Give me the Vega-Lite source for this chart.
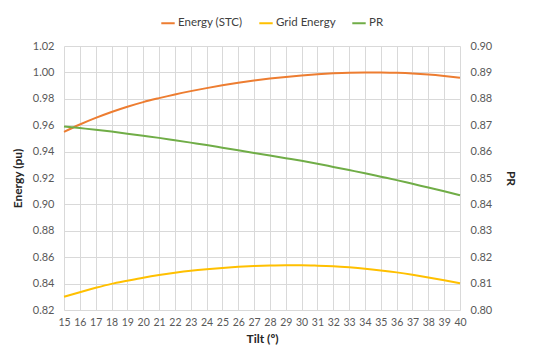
{
  "$schema": "https://vega.github.io/schema/vega-lite/v6.json",
  "width": 396,
  "height": 264,
  "autosize": {"type": "none"},
  "padding": {"left": 64, "top": 46, "right": 90, "bottom": 54},
  "background": "white",
  "config": {
    "font": "Lato",
    "view": {"stroke": null},
    "axis": {
      "labelFont": "Lato", "labelFontSize": 11, "labelColor": "#595959",
      "titleFont": "Lato", "titleFontSize": 12, "titleFontWeight": "bold", "titleColor": "#262626",
      "gridColor": "#d9d9d9", "gridWidth": 1, "ticks": false, "domain": false
    },
    "legend": {"labelFont": "Lato", "labelFontSize": 11.5, "labelColor": "#404040"}
  },
  "data": {
    "values": [
      {"tilt": 15, "stc": 0.955, "grid": 0.830, "pr": 0.8695},
      {"tilt": 16, "stc": 0.9605, "grid": 0.8335, "pr": 0.8689},
      {"tilt": 17, "stc": 0.9655, "grid": 0.8368, "pr": 0.8683},
      {"tilt": 18, "stc": 0.9700, "grid": 0.8398, "pr": 0.8676},
      {"tilt": 19, "stc": 0.9740, "grid": 0.8422, "pr": 0.8668},
      {"tilt": 20, "stc": 0.9775, "grid": 0.8445, "pr": 0.8660},
      {"tilt": 21, "stc": 0.9805, "grid": 0.8465, "pr": 0.8652},
      {"tilt": 22, "stc": 0.9833, "grid": 0.8482, "pr": 0.8643},
      {"tilt": 23, "stc": 0.9858, "grid": 0.8497, "pr": 0.8634},
      {"tilt": 24, "stc": 0.9881, "grid": 0.8509, "pr": 0.8625},
      {"tilt": 25, "stc": 0.9902, "grid": 0.8519, "pr": 0.8615},
      {"tilt": 26, "stc": 0.9921, "grid": 0.8527, "pr": 0.8605},
      {"tilt": 27, "stc": 0.9938, "grid": 0.8533, "pr": 0.8595},
      {"tilt": 28, "stc": 0.9953, "grid": 0.8537, "pr": 0.8585},
      {"tilt": 29, "stc": 0.9966, "grid": 0.8539, "pr": 0.8575},
      {"tilt": 30, "stc": 0.9977, "grid": 0.8539, "pr": 0.8565},
      {"tilt": 31, "stc": 0.9986, "grid": 0.8536, "pr": 0.8554},
      {"tilt": 32, "stc": 0.9993, "grid": 0.8531, "pr": 0.8542},
      {"tilt": 33, "stc": 0.9998, "grid": 0.8523, "pr": 0.8530},
      {"tilt": 34, "stc": 1.0000, "grid": 0.8513, "pr": 0.8518},
      {"tilt": 35, "stc": 1.0000, "grid": 0.8500, "pr": 0.8505},
      {"tilt": 36, "stc": 0.9997, "grid": 0.8485, "pr": 0.8492},
      {"tilt": 37, "stc": 0.9992, "grid": 0.8467, "pr": 0.8478},
      {"tilt": 38, "stc": 0.9984, "grid": 0.8447, "pr": 0.8464},
      {"tilt": 39, "stc": 0.9973, "grid": 0.8425, "pr": 0.8450},
      {"tilt": 40, "stc": 0.9960, "grid": 0.8402, "pr": 0.8435}
    ]
  },
  "encoding": {
    "x": {"field": "tilt", "type": "quantitative", "scale": {"domain": [15, 40], "nice": false},
          "axis": {"title": "Tilt (º)", "values": [15,16,17,18,19,20,21,22,23,24,25,26,27,28,29,30,31,32,33,34,35,36,37,38,39,40], "labelOverlap": false, "labelFontSize": 10.5, "labelPadding": 7, "titlePadding": 6, "labelFlush": false}}
  },
  "layer": [
    {
      "transform": [
        {"fold": ["stc", "grid"], "as": ["key", "value"]},
        {"lookup": "key", "from": {"data": {"values": [{"key": "stc", "series": "Energy (STC)"}, {"key": "grid", "series": "Grid Energy"}]}, "key": "key", "fields": ["series"]}}
      ],
      "mark": {"type": "line", "strokeWidth": 2, "interpolate": "monotone"},
      "encoding": {
        "y": {"field": "value", "type": "quantitative", "scale": {"domain": [0.82, 1.02], "nice": false, "zero": false},
              "axis": {"title": "Energy (pu)", "values": [0.82,0.84,0.86,0.88,0.90,0.92,0.94,0.96,0.98,1.00,1.02], "labelOverlap": false, "format": ".2f", "labelPadding": 10, "titlePadding": 8}},
        "color": {"field": "series", "type": "nominal",
                  "scale": {"domain": ["Energy (STC)", "Grid Energy", "PR"], "range": ["#ED7D31", "#FFC000", "#70AD47"]},
                  "legend": {"title": null, "orient": "none", "direction": "horizontal", "legendX": 96, "legendY": -31, "symbolType": "stroke", "symbolStrokeWidth": 2, "symbolSize": 180, "columnPadding": 12, "labelOffset": 2}}
      }
    },
    {
      "transform": [
        {"fold": ["pr"], "as": ["key", "value"]},
        {"lookup": "key", "from": {"data": {"values": [{"key": "pr", "series": "PR"}]}, "key": "key", "fields": ["series"]}}
      ],
      "mark": {"type": "line", "strokeWidth": 2, "interpolate": "monotone"},
      "encoding": {
        "y": {"field": "value", "type": "quantitative", "scale": {"domain": [0.80, 0.90], "nice": false, "zero": false},
              "axis": {"title": "PR", "orient": "right", "grid": false, "values": [0.80,0.81,0.82,0.83,0.84,0.85,0.86,0.87,0.88,0.89,0.90], "labelOverlap": false, "format": ".2f", "labelPadding": 10, "titlePadding": 12}},
        "color": {"field": "series", "type": "nominal"}
      }
    }
  ],
  "resolve": {"scale": {"y": "independent"}}
}
